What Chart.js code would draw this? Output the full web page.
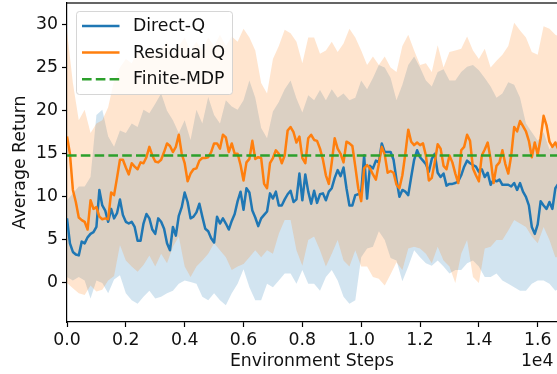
<!DOCTYPE html>
<html><head><meta charset="utf-8">
<script src="https://cdn.jsdelivr.net/npm/chart.js@4/dist/chart.umd.min.js"></script>
<style>html,body{margin:0;padding:0;background:#fff;}#wrap{width:557px;height:374px;position:relative;}canvas{display:block;}</style>
</head><body>
<div id="wrap"><canvas id="c" width="557" height="374"></canvas></div>
<script>
// ---- data ----
const STEP = 100;        // env steps between logged mean values
const BAND_STEP = 200;   // env steps between read band bounds
const seriesLabels = ['Direct-Q', 'Residual Q', 'Finite-MDP'];
const directQMean = [
7.5,4.6,3.6,3.3,3.2,4.8,4.6,5.3,5.7,5.9,
6.5,10.8,9.0,8.4,7.1,8.6,7.5,8.1,9.7,7.9,
7.1,6.9,7.1,6.5,4.9,4.9,6.9,8.0,7.5,6.2,
5.7,7.5,7.1,6.3,4.6,3.8,6.5,5.5,7.8,8.8,
10.5,9.4,7.5,7.7,8.2,9.2,7.7,6.3,6.0,5.2,
4.7,7.7,6.9,7.5,6.9,6.2,7.2,8.0,9.5,10.6,
8.5,11.0,10.5,8.4,7.6,6.6,7.5,7.9,8.3,10.4,
9.8,10.6,9.0,9.0,9.7,10.3,10.7,9.4,9.7,12.7,
9.6,12.6,10.6,9.2,10.7,9.3,10.3,10.4,9.6,10.6,
11.0,12.2,13.1,12.4,13.4,11.0,9.0,9.0,10.2,10.3,
10.5,14.8,9.8,13.6,13.3,14.2,14.0,16.2,15.2,15.2,
15.2,14.3,12.0,10.0,10.8,10.6,10.2,12.3,14.3,15.4,
14.6,14.2,13.8,12.9,14.4,15.0,12.8,12.3,12.7,11.3,
11.5,11.5,11.6,11.8,12.5,13.5,14.2,13.9,13.7,13.5,
12.9,13.2,12.3,12.8,11.4,12.0,11.8,12.0,11.4,11.4,
11.4,11.2,11.6,10.8,11.6,10.6,10.0,9.0,6.5,5.7,
6.8,9.5,9.0,8.6,9.4,8.6,11.0,11.5];
const residualQMean = [
17.0,15.0,10.8,9.4,7.6,7.3,7.1,6.2,9.6,8.6,
8.8,7.7,7.4,7.5,7.4,10.5,10.2,12.2,14.3,14.3,
13.4,12.6,13.9,13.5,13.2,14.0,13.9,14.6,15.8,14.8,
14.1,14.0,14.3,15.2,16.2,15.9,15.2,15.8,17.2,15.0,
13.9,11.8,12.7,13.2,13.3,14.2,14.5,14.5,14.6,15.2,
16.2,16.2,15.6,17.2,16.9,15.2,16.2,15.0,15.0,13.7,
11.9,14.0,14.4,16.5,14.4,14.6,14.5,11.5,11.0,13.9,
14.5,15.4,15.0,13.9,14.8,17.7,18.1,17.5,16.3,17.0,
14.5,13.9,16.8,17.2,16.6,16.5,15.6,14.3,12.5,11.5,
14.0,16.8,15.6,15.0,14.0,16.4,16.2,15.9,13.5,11.0,
9.5,13.3,13.7,13.3,12.6,12.0,13.8,15.8,14.9,12.8,
13.0,12.8,11.4,11.0,12.5,15.0,17.8,16.4,16.0,16.3,
16.0,16.2,14.8,11.9,12.2,14.0,16.1,15.6,13.6,13.2,
14.8,14.0,12.7,11.6,15.4,15.8,17.2,16.5,13.3,12.5,
11.8,14.8,15.5,16.3,14.4,11.6,13.6,14.0,15.4,13.8,
12.7,14.8,18.1,17.6,18.8,18.2,17.6,16.5,14.6,16.3,
14.9,16.8,19.4,18.3,16.4,15.8,16.3,15.5];
const residualQUpper = [
29.2,23.2,18.9,20.1,17.4,18.5,18.9,20.4,23.5,25.0,
26.0,25.5,27.0,26.0,27.5,26.5,27.0,28.0,26.5,27.5,
28.5,27.0,28.0,27.0,28.5,27.5,28.8,27.5,28.6,28.0,
29.5,28.5,27.0,23.2,22.0,26.0,27.5,29.4,29.0,28.0,
25.5,28.5,28.5,26.6,27.0,28.0,26.8,27.8,29.5,28.5,
27.0,25.3,26.3,25.3,26.3,25.0,24.5,27.5,28.8,27.0,
25.3,25.5,24.5,27.6,25.0,26.8,27.0,27.2,28.6,27.0,
26.0,27.2,25.0,25.8,26.5,27.5,30.2,29.3,28.5,26.8,
26.5,29.8,29.5,28.8,28.5];
const residualQLower = [
0.0,-0.6,-1.2,-1.4,-0.3,-1.0,-0.8,0.3,0.8,4.4,
2.6,1.9,1.3,2.1,3.2,1.9,3.4,2.3,4.2,5.4,
1.9,0.7,1.9,2.6,3.4,4.6,3.8,3.0,1.5,1.9,
2.2,3.0,3.8,3.0,3.8,3.4,5.7,7.3,7.3,3.8,
2.0,5.0,5.4,3.8,1.9,3.4,5.0,2.6,1.9,3.8,
1.9,1.9,0.7,0.5,-0.3,1.0,2.4,1.5,4.0,4.2,
4.0,3.4,2.3,4.2,2.6,1.9,0.0,3.4,5.0,0.7,
0.0,4.0,4.2,5.0,5.0,6.1,7.3,6.9,6.5,5.4,
4.6,6.5,5.0,3.0,3.0];
const directQUpper = [
9.6,10.4,11.2,11.2,12.3,19.5,20.1,17.0,15.8,17.7,
17.4,18.5,18.1,20.1,19.7,20.8,22.0,20.0,18.9,17.4,
18.9,16.6,20.1,18.5,21.6,19.5,18.5,21.2,20.5,20.1,
21.2,23.5,21.5,18.0,16.8,19.9,21.0,22.5,23.5,21.4,
19.8,21.8,21.2,22.4,21.2,22.5,21.5,22.0,21.2,21.5,
23.5,22.5,23.8,25.3,25.0,23.8,21.2,23.0,25.3,26.3,
25.0,23.5,22.8,24.5,24.8,23.5,23.5,24.5,25.1,25.3,
24.7,23.8,22.8,21.5,22.0,23.3,23.0,21.5,18.5,17.5,
16.5,17.5,15.5,16.5,16.0];
const directQLower = [
0.7,0.3,0.7,0.3,-1.8,0.3,0.0,-1.2,0.4,0.9,
-1.2,-2.0,-2.4,-1.6,-0.9,-1.8,-1.6,-1.2,-0.9,-0.1,
0.3,0.1,-0.1,-1.6,-2.0,-1.2,-2.0,-2.6,-1.2,-0.1,
1.6,-0.5,-2.0,-2.0,-0.1,-0.5,0.3,1.1,1.1,-0.1,
1.5,-0.1,-0.1,-0.9,0.7,1.5,0.3,-1.6,-2.4,-2.0,
3.0,4.0,4.2,6.0,5.0,2.9,2.6,0.2,1.9,3.8,
3.0,2.3,2.0,2.6,1.9,1.1,1.5,1.5,2.3,2.6,
1.9,0.7,0.7,1.1,0.3,-0.1,-0.5,-0.9,-0.9,-0.1,
0.3,0.3,-0.1,-0.9,-0.5];
const finiteMDPValue = 14.8;
const finiteMDPSpan = [0, 17000];
const xTickValues = [0,2000,4000,6000,8000,10000,12000,14000,16000];
const yTickValues = [0,5,10,15,20,25,30];
const X_MIN = 0, X_MAX = 16656, Y_MIN = -4.53, Y_MAX = 32.5;

// ---- build ----
const pts = (arr, step) => arr.map((v, i) => ({x: i * step, y: v}));
const BLUE = '#1f77b4', ORANGE = '#ff7f0e', GREEN = '#2ca02c';
const FONT = {family: "'DejaVu Sans', sans-serif", size: 17.3};
const TXT = '#111';

const datasets = [
  {label: seriesLabels[2], data: finiteMDPSpan.map(x => ({x, y: finiteMDPValue})), borderColor: GREEN, borderWidth: 2.5, borderDash: [9.6, 4.2], pointRadius: 0, fill: false},
  {label: seriesLabels[1], data: pts(residualQMean, STEP), borderColor: ORANGE, borderWidth: 2.5, pointRadius: 0, fill: false, borderJoinStyle: 'round'},
  {label: seriesLabels[0], data: pts(directQMean, STEP), borderColor: BLUE, borderWidth: 2.5, pointRadius: 0, fill: false, borderJoinStyle: 'round'},
  {label: 'rq_up', data: pts(residualQUpper, BAND_STEP), borderWidth: 0, pointRadius: 0, fill: '+1', backgroundColor: 'rgba(255,127,14,0.2)'},
  {label: 'rq_lo', data: pts(residualQLower, BAND_STEP), borderWidth: 0, pointRadius: 0, fill: false},
  {label: 'dq_up', data: pts(directQUpper, BAND_STEP), borderWidth: 0, pointRadius: 0, fill: '+1', backgroundColor: 'rgba(31,119,180,0.2)'},
  {label: 'dq_lo', data: pts(directQLower, BAND_STEP), borderWidth: 0, pointRadius: 0, fill: false}
];

const decor = {
  id: 'decor',
  afterDraw(chart) {
    const ctx = chart.ctx, a = chart.chartArea;
    ctx.save();
    // top spine
    ctx.fillStyle = '#000';
    ctx.fillRect(a.left - 0.6, a.top - 0.6, a.right - a.left + 1, 1.2);
    // offset text
    ctx.font = `${FONT.size}px ${FONT.family}`;
    ctx.fillStyle = TXT;
    ctx.textAlign = 'right';
    ctx.textBaseline = 'alphabetic';
    ctx.fillText('1e4', 553.5, 365.5);
    // legend
    const bx = 76.5, by = 11.5, bw = 156, bh = 83;
    ctx.beginPath();
    ctx.roundRect(bx, by, bw, bh, 3);
    ctx.fillStyle = 'rgba(255,255,255,0.8)';
    ctx.fill();
    ctx.strokeStyle = 'rgba(204,204,204,0.8)';
    ctx.lineWidth = 1;
    ctx.stroke();
    const entries = [chart.data.datasets[2], chart.data.datasets[1], chart.data.datasets[0]];
    entries.forEach((ds, i) => {
      const base = 31 + 26.6 * i;
      const ly = base - 5;
      ctx.beginPath();
      ctx.strokeStyle = ds.borderColor;
      ctx.lineWidth = 2.5;
      ctx.setLineDash(ds.borderDash || []);
      ctx.moveTo(82, ly);
      ctx.lineTo(119.5, ly);
      ctx.stroke();
      ctx.setLineDash([]);
      ctx.fillStyle = TXT;
      ctx.textAlign = 'left';
      ctx.fillText(ds.label, 133, base);
    });
    ctx.restore();
  }
};

new Chart(document.getElementById('c'), {
  type: 'line',
  data: {datasets},
  options: {
    responsive: false, animation: false, devicePixelRatio: 1, events: [],
    layout: {padding: {top: 3, right: 0, left: 0, bottom: 0}},
    plugins: {legend: {display: false}, tooltip: {enabled: false}, filler: {drawTime: 'beforeDatasetsDraw'}},
    elements: {line: {tension: 0}},
    scales: {
      x: {
        type: 'linear', min: X_MIN, max: X_MAX,
        afterBuildTicks: s => { s.ticks = xTickValues.map(v => ({value: v})); },
        afterFit: s => { s.height = 52; s.paddingLeft = 0; s.paddingRight = 0; },
        grid: {drawOnChartArea: false, drawTicks: true, tickLength: 5, tickColor: '#000', tickWidth: 1.2},
        border: {display: true, color: '#000', width: 1.2},
        ticks: {font: FONT, color: TXT, padding: 3, maxRotation: 0, autoSkip: false, callback: v => (v / 1e4).toFixed(1)},
        title: {display: true, text: 'Environment Steps', font: FONT, color: TXT, padding: {top: 0, bottom: 2.6}}
      },
      y: {
        type: 'linear', min: Y_MIN, max: Y_MAX,
        afterBuildTicks: s => { s.ticks = yTickValues.map(v => ({value: v})); },
        afterFit: s => { s.width = 67; s.paddingTop = 0; s.paddingBottom = 0; },
        grid: {drawOnChartArea: false, drawTicks: true, tickLength: 5, tickColor: '#000', tickWidth: 1.2},
        border: {display: true, color: '#000', width: 1.2},
        ticks: {font: FONT, color: TXT, padding: 4, callback: v => String(v)},
        title: {display: true, text: 'Average Return', font: FONT, color: TXT, padding: {top: 10, bottom: 0}}
      }
    }
  },
  plugins: [decor]
});
</script>
</body></html>
